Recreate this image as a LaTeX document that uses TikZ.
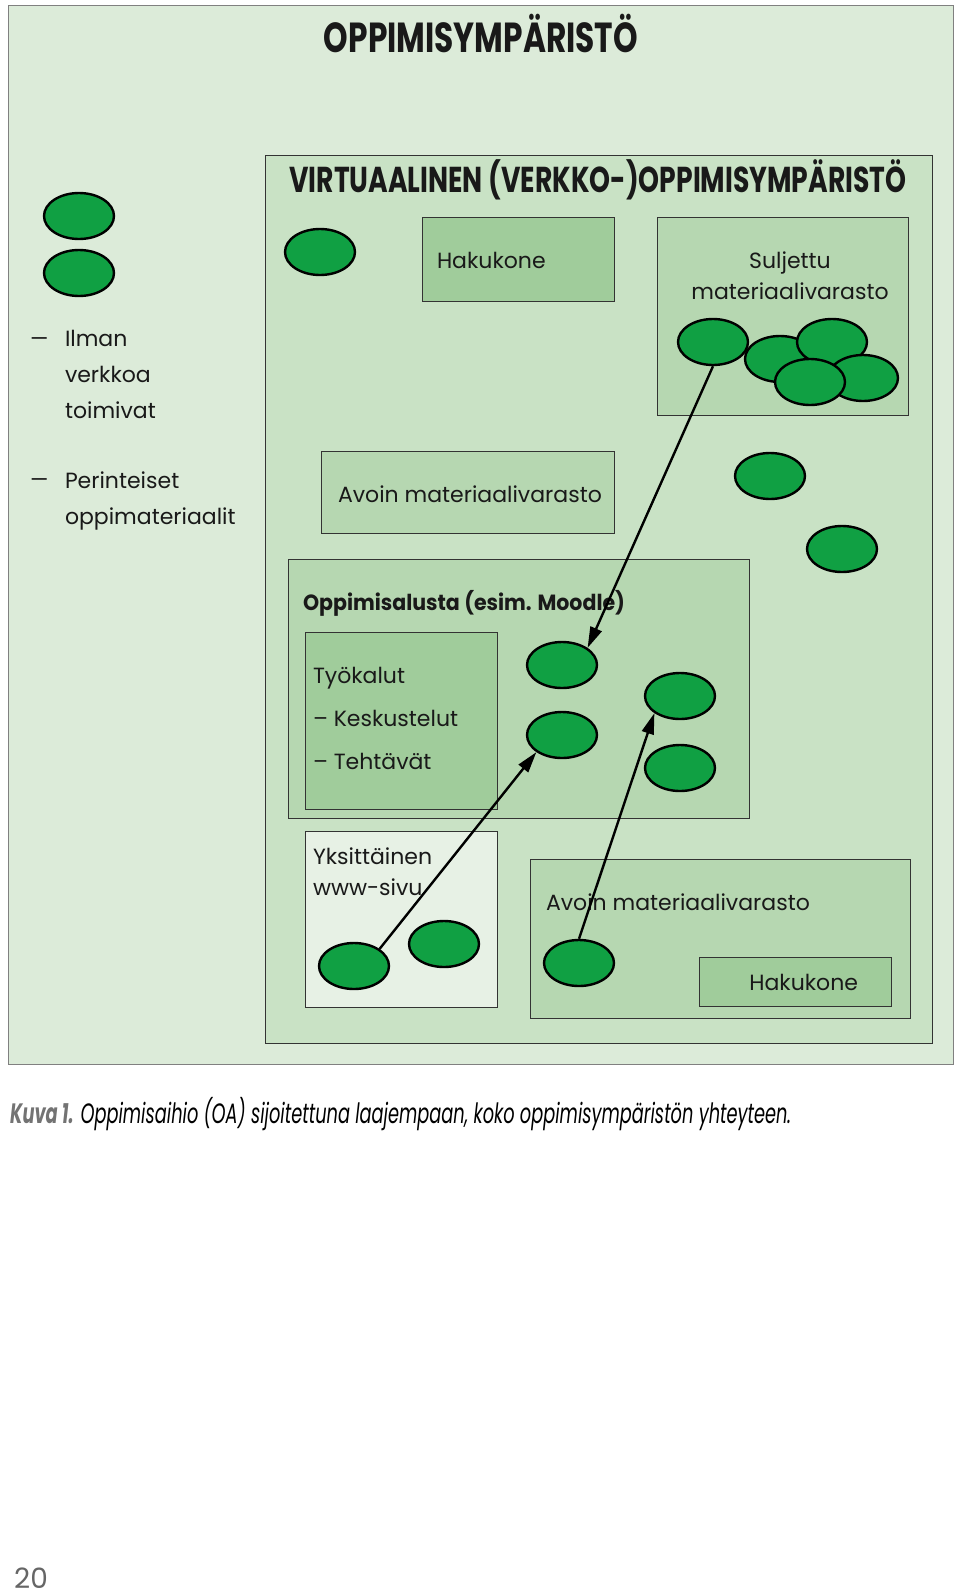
\documentclass[tikz,border=0pt]{standalone}
\usepackage{fontspec}
\setmainfont{Poppins}
\usetikzlibrary{positioning,shapes.geometric,arrows.meta}

\definecolor{ympColor}{RGB}{220,235,217}
\definecolor{virtColor}{RGB}{201,226,197}
\definecolor{midColor}{RGB}{182,215,177}
\definecolor{darkColor}{RGB}{160,204,155}
\definecolor{wwwColor}{RGB}{231,241,229}
\definecolor{oaColor}{RGB}{16,160,67}
\definecolor{lineColor}{gray}{0.20}
\definecolor{textColor}{gray}{0.10}
\definecolor{kuvaColor}{gray}{0.45}
\definecolor{numColor}{gray}{0.40}

\begin{document}
\begin{tikzpicture}[x=1pt,y=-1pt,
  box/.style={draw=lineColor,line width=1.3pt,anchor=north west,inner sep=0pt},
  oa/.style={ellipse,draw=black,line width=2.4pt,fill=oaColor,
    minimum width=70pt,minimum height=46pt,inner sep=0pt},
  txt/.style={text=textColor,inner sep=0pt,outer sep=0pt,
    font=\fontsize{22}{31}\selectfont},
  title/.style={text=textColor,inner sep=0pt,outer sep=0pt,
    font=\bfseries\fontsize{42}{44}\selectfont},
  link/.style={draw=black,line width=2.4pt,-{Triangle[length=21pt,width=12pt]}}]
\path[use as bounding box,fill=white] (0,0) rectangle (960,1595);

% laatikot
\node[box,draw=gray,fill=ympColor,minimum width=945pt,minimum height=1059pt] (ymp) at (8,5) {};
\node[box,fill=virtColor,minimum width=667pt,minimum height=888pt] (virt) at (265,155) {};
\node[box,fill=darkColor,minimum width=192pt,minimum height=84pt] (hak1) at (422,217) {};
\node[box,fill=midColor,minimum width=251pt,minimum height=198pt] (sul) at (657,217) {};
\node[box,fill=midColor,minimum width=293pt,minimum height=82pt] (avo1) at (321,451) {};
\node[box,fill=midColor,minimum width=461pt,minimum height=259pt] (alusta) at (288,559) {};
\node[box,fill=darkColor,minimum width=192pt,minimum height=177pt] (tyo) at (305,632) {};
\node[box,fill=wwwColor,minimum width=192pt,minimum height=176pt] (www) at (305,831) {};
\node[box,fill=midColor,minimum width=380pt,minimum height=159pt] (avo2) at (530,859) {};
\node[box,fill=darkColor,minimum width=192pt,minimum height=49pt] (hak2) at (699,957) {};

% otsikot
\node[title] (ympT) at (481,33) {\resizebox{314pt}{\height}{OPPIMISYMPÄRISTÖ}};
\node[title,font=\bfseries\fontsize{36}{38}\selectfont] (virtT) at (598,180)
  {\resizebox{617pt}{\height}{VIRTUAALINEN (VERKKO-)OPPIMISYMPÄRISTÖ}};

% tekstit
\node[txt,anchor=west] (hak1T) at ([shift={(15,43)}]hak1.north west) {Hakukone};
\node[txt,align=center] (sulT) at (790,276) {Suljettu\\materiaalivarasto};
\node[txt,anchor=west] (avo1T) at ([shift={(17,43)}]avo1.north west) {Avoin materiaalivarasto};
\node[txt,anchor=west,font=\bfseries\fontsize{22}{31}\selectfont] (alustaT)
  at ([shift={(15,44)}]alusta.north west) {\resizebox{322pt}{\height}{Oppimisalusta (esim. Moodle)}};
\node[txt,anchor=north west,align=left,font=\fontsize{22}{43}\selectfont] (tyoT)
  at ([shift={(8,35)}]tyo.north west) {Työkalut\\– Keskustelut\\– Tehtävät};
\node[txt,anchor=north west,align=left] (wwwT) at ([shift={(8,17)}]www.north west) {Yksittäinen\\www-sivu};
\node[txt,anchor=west] (avo2T) at ([shift={(16,43)}]avo2.north west) {Avoin materiaalivarasto};
\node[txt] (hak2T) at ([shift={(8,0)}]hak2.center) {Hakukone};

\node[txt,anchor=north west,align=left,font=\fontsize{22}{36}\selectfont] (ilman) at (65,330)
  {Ilman\\verkkoa\\toimivat};
\node[txt,anchor=north west,align=left,font=\fontsize{22}{36}\selectfont] (perint) at (65,472)
  {Perinteiset\\oppimateriaalit};
\node[txt,anchor=north east] (viiva1) at ([xshift=-16pt]ilman.north west) {\vphantom{Il}\scalebox{1.3}[1]{–}};
\node[txt,anchor=north east] (viiva2) at ([xshift=-16pt]perint.north west) {\vphantom{Pe}\scalebox{1.3}[1]{–}};

% oppimisaihiot
\node[oa] (l1) at (79,216) {};
\node[oa] (l2) at (79,273) {};
\node[oa] (v1) at (320,252) {};
\node[oa] (s1) at (713,342) {};
\node[oa] (s2) at (780,359) {};
\node[oa] (s3) at (832,342) {};
\node[oa] (s4) at (863,378) {};
\node[oa] (s5) at (810,382) {};
\node[oa] (v2) at (770,476) {};
\node[oa] (v3) at (842,549) {};
\node[oa] (m1) at (562,665) {};
\node[oa] (m2) at (562,735) {};
\node[oa] (m3) at (680,696) {};
\node[oa] (m4) at (680,768) {};
\node[oa] (w1) at (354,966) {};
\node[oa] (w2) at (444,944) {};
\node[oa] (a1) at (579,963) {};

% nuolet
\draw[link] (s1.south) -- (m1.north east);
\draw[link] (w1.north east) -- (m2.south west);
\draw[link] (a1.north) -- (m3.south west);

% kuvateksti ja sivunumero
\node[anchor=west,inner sep=0pt,font=\itshape\fontsize{28}{30}\selectfont] (kuva) at (10,1114)
  {\resizebox{781pt}{\height}{{\bfseries\color{kuvaColor}Kuva 1.} Oppimisaihio (OA) sijoitettuna laajempaan, koko oppimisympäristön yhteyteen.}};
\node[text=numColor,inner sep=0pt,font=\fontsize{28}{30}\selectfont] (sivu) at (31,1578) {20};
\end{tikzpicture}
\end{document}
